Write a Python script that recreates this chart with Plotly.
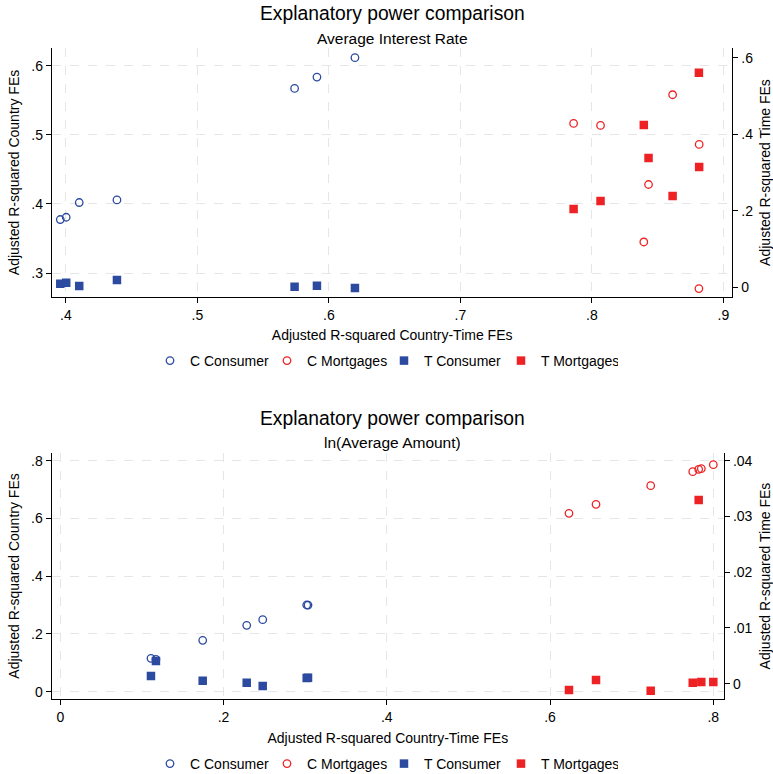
import plotly.graph_objects as go

# ---- Panel 1: Average Interest Rate ----
ir_ct = [0.3957, 0.4002, 0.4101, 0.4388, 0.5739, 0.5909, 0.6198]          # consumer, country-time R2
ir_c_cons = [0.3774, 0.3807, 0.4020, 0.4058, 0.5672, 0.5836, 0.6116]       # country FEs R2
ir_t_cons = [0.0094, 0.0120, 0.0034, 0.0190, 0.0016, 0.0042, -0.0018]      # time FEs R2

ir_ct_m = [0.7861, 0.8066, 0.8614, 0.8816, 0.8431, 0.8395, 0.8814]         # mortgages, country-time R2
ir_c_mort = [0.5165, 0.5136, 0.5580, 0.4861, 0.4281, 0.3449, 0.2774]
ir_t_mort = [0.2047, 0.2256, 0.2387, 0.3145, 0.3380, 0.4243, 0.5603]

# ---- Panel 2: ln(Average Amount) ----
am_ct = [0.1111, 0.1172, 0.1745, 0.2284, 0.2480, 0.3019, 0.3035]
am_c_cons = [0.1157, 0.1120, 0.1780, 0.2300, 0.2494, 0.3003, 0.3000]
am_t_cons = [0.00138, 0.00407, 0.00054, 0.00018, -0.00041, 0.00102, 0.00105]

am_ct_m = [0.6232, 0.6563, 0.7233, 0.7748, 0.7821, 0.7853, 0.8000]
am_c_mort = [0.6178, 0.6490, 0.7134, 0.7619, 0.7702, 0.7723, 0.7861]
am_t_mort = [-0.00113, 0.00066, -0.00126, 0.00018, 0.03295, 0.00030, 0.00030]

# ---- Tick labels ----
ir_x_ticks = [0.4, 0.5, 0.6, 0.7, 0.8, 0.9]
ir_x_text = [".4", ".5", ".6", ".7", ".8", ".9"]
ir_yl_ticks = [0.3, 0.4, 0.5, 0.6]
ir_yl_text = [".3", ".4", ".5", ".6"]
ir_yr_ticks = [0, 0.2, 0.4, 0.6]
ir_yr_text = ["0", ".2", ".4", ".6"]

am_x_ticks = [0, 0.2, 0.4, 0.6, 0.8]
am_x_text = ["0", ".2", ".4", ".6", ".8"]
am_yl_ticks = [0, 0.2, 0.4, 0.6, 0.8]
am_yl_text = ["0", ".2", ".4", ".6", ".8"]
am_yr_ticks = [0, 0.01, 0.02, 0.03, 0.04]
am_yr_text = ["0", ".01", ".02", ".03", ".04"]

series_names = ["C Consumer", "C Mortgages", "T Consumer", "T Mortgages"]

BLUE = "#2B4AA0"
RED = "#EE2224"
FONT = "Liberation Sans, Arial, sans-serif"
W, H = 773, 774


def px_x(p):
    return p / W


def px_y(p):
    return 1 - p / H


circle = lambda c: dict(symbol="circle-open", size=7.5, color=c, line=dict(width=1.3, color=c))
square = lambda c: dict(symbol="square", size=8.5, color=c, line=dict(width=0))

fig = go.Figure()

panels = [
    ("x", "y", "y2", "legend", ir_ct, ir_c_cons, ir_t_cons, ir_ct_m, ir_c_mort, ir_t_mort),
    ("x2", "y3", "y4", "legend2", am_ct, am_c_cons, am_t_cons, am_ct_m, am_c_mort, am_t_mort),
]
for xa, yl, yr, lg, ctc, cc, tc, ctm, cm, tm in panels:
    fig.add_trace(go.Scatter(x=ctc, y=cc, mode="markers", name=series_names[0], marker=circle(BLUE),
                             xaxis=xa, yaxis=yl, legend=lg))
    fig.add_trace(go.Scatter(x=ctm, y=cm, mode="markers", name=series_names[1], marker=circle(RED),
                             xaxis=xa, yaxis=yl, legend=lg))
    fig.add_trace(go.Scatter(x=ctc, y=tc, mode="markers", name=series_names[2], marker=square(BLUE),
                             xaxis=xa, yaxis=yr, legend=lg))
    fig.add_trace(go.Scatter(x=ctm, y=tm, mode="markers", name=series_names[3], marker=square(RED),
                             xaxis=xa, yaxis=yr, legend=lg))

axis_common = dict(
    showline=True, linecolor="black", linewidth=1.3, ticks="outside", ticklen=5,
    tickcolor="black", tickwidth=1.2, tickfont=dict(family=FONT, size=14, color="black"),
    zeroline=False, mirror=False,
)
grid = dict(showgrid=True, gridcolor="#E6E6E6", griddash="dash", gridwidth=1)
nogrid = dict(showgrid=False)
title_font = dict(family=FONT, size=14, color="black")

top_dom_x = [px_x(52), px_x(732.3)]
top_dom_y = [px_y(296.7), px_y(48.3)]
bot_dom_x = [px_x(51.7), px_x(724)]
bot_dom_y = [px_y(699.3), px_y(452.7)]

legend_style = dict(orientation="h", xanchor="left", yanchor="middle",
                    font=dict(family=FONT, size=14, color="black"), bgcolor="rgba(0,0,0,0)",
                    entrywidth=72, entrywidthmode="pixels", itemwidth=30, tracegroupgap=0)

fig.update_layout(
    width=W, height=H,
    margin=dict(l=0, r=0, t=0, b=0, autoexpand=False),
    paper_bgcolor="white", plot_bgcolor="white",
    font=dict(family=FONT, size=14, color="black"),
    showlegend=True,
    xaxis=dict(domain=top_dom_x, range=[0.3894, 0.9068], anchor="y",
               tickvals=ir_x_ticks, ticktext=ir_x_text,
               title=dict(text="Adjusted R-squared Country-Time FEs", font=title_font, standoff=8),
               **axis_common, **grid),
    yaxis=dict(domain=top_dom_y, range=[0.2657, 0.6252], anchor="x",
               tickvals=ir_yl_ticks, ticktext=ir_yl_text,
               title=dict(text="Adjusted R-squared Country FEs", font=title_font, standoff=8),
               **axis_common, **grid),
    yaxis2=dict(domain=top_dom_y, range=[-0.0245, 0.6245], anchor="x", overlaying="y", side="right",
                tickvals=ir_yr_ticks, ticktext=ir_yr_text,
                title=dict(text="Adjusted R-squared Time FEs", font=title_font, standoff=13),
                **axis_common, **nogrid),
    xaxis2=dict(domain=bot_dom_x, range=[-0.0105, 0.8131], anchor="y3",
                tickvals=am_x_ticks, ticktext=am_x_text,
                title=dict(text="Adjusted R-squared Country-Time FEs", font=title_font, standoff=8),
                **axis_common, **grid),
    yaxis3=dict(domain=bot_dom_y, range=[-0.0263, 0.8277], anchor="x2",
                tickvals=am_yl_ticks, ticktext=am_yl_text,
                title=dict(text="Adjusted R-squared Country FEs", font=title_font, standoff=8),
                **axis_common, **grid),
    yaxis4=dict(domain=bot_dom_y, range=[-0.0028, 0.04144], anchor="x2", overlaying="y3", side="right",
                tickvals=am_yr_ticks, ticktext=am_yr_text,
                title=dict(text="Adjusted R-squared Time FEs", font=title_font, standoff=13),
                **axis_common, **nogrid),
    legend=dict(x=px_x(150), y=px_y(361), **legend_style),
    legend2=dict(x=px_x(150), y=px_y(764), **legend_style),
)

titles = [
    ("Explanatory power comparison", 14, 19.3),
    ("Average Interest Rate", 39, 15.5),
    ("Explanatory power comparison", 418, 19.3),
    ("ln(Average Amount)", 442.5, 15.5),
]
for text, ypx, size in titles:
    fig.add_annotation(text=text, xref="paper", yref="paper", x=px_x(392), y=px_y(ypx),
                       xanchor="center", yanchor="middle", showarrow=False,
                       font=dict(family=FONT, size=size, color="black"))

fig.write_html("out.html")
